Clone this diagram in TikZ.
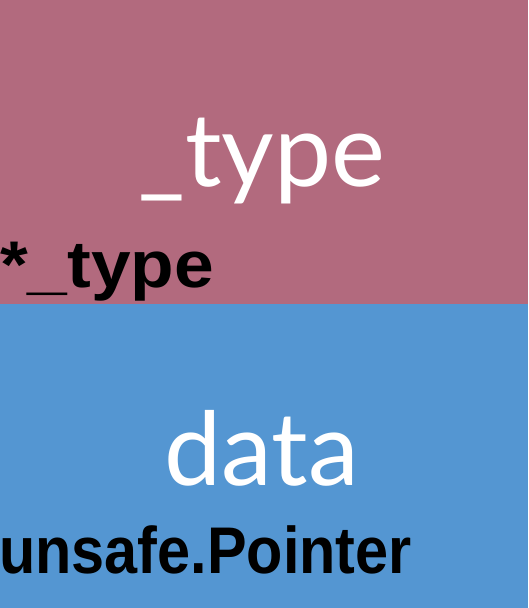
\documentclass[tikz,border=0pt]{standalone}
\usepackage{fontspec}
\usepackage{graphicx}
\usepackage{tikz}
\usetikzlibrary{positioning}
\newfontfamily\fuenteclara{Lato}
\newfontfamily\fuentecampo{Liberation Sans}
\definecolor{rosa}{RGB}{178,106,126}
\definecolor{azul}{RGB}{84,150,210}

\begin{document}
\begin{tikzpicture}[x=1pt,y=-1pt,
campo/.style={rectangle,inner sep=0pt,outer sep=0pt,minimum width=528pt,minimum height=304pt,anchor=north west},
nombre/.style={text=white,anchor=base,inner sep=0pt,font=\fuenteclara\fontsize{102}{102}\selectfont},
tipocampo/.style={text=black,anchor=base west,inner sep=0pt,font=\fuentecampo\bfseries\fontsize{66}{66}\selectfont}
]
\useasboundingbox (0,0) rectangle (528,608);
\node[campo,fill=rosa] (tipo) at (0,0) {};
\node[campo,fill=azul] (datos) at (0,304) {};

\node[nombre] (tiponombre) at (262,186) {\_type};
\node[tipocampo] (tipotipo) at (0,287) {\scalebox{1.08}[1]{*\_type}};

\node[nombre] (datosnombre) at (262,485) {data};
\node[tipocampo] (datostipo) at (-1,573) {\scalebox{0.9}[1]{unsafe.Pointer}};
\end{tikzpicture}
\end{document}
